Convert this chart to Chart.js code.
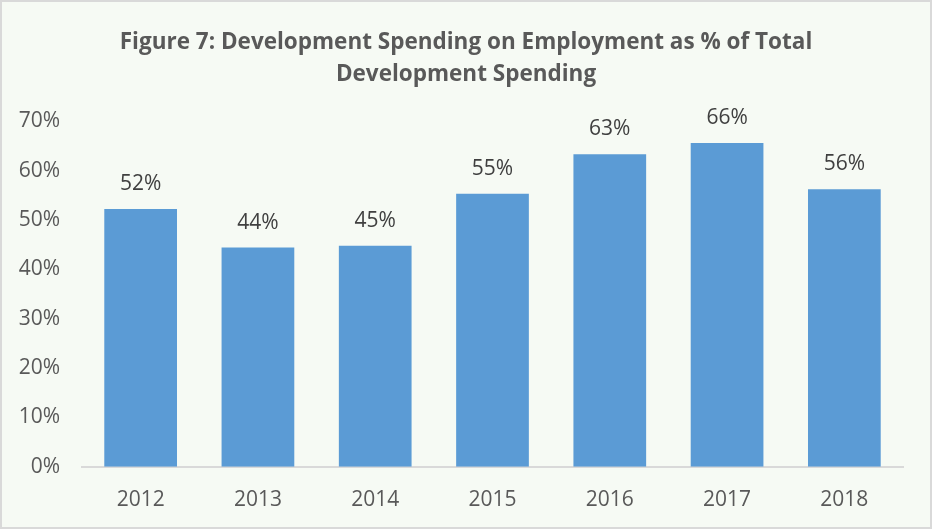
<!DOCTYPE html>
<html>
<head>
<meta charset="utf-8">
<script src="https://cdn.jsdelivr.net/npm/chart.js@4.4.1/dist/chart.umd.min.js"></script>
<style>
  html, body { margin: 0; padding: 0; }
  #wrap {
    width: 932px; height: 529px; box-sizing: border-box;
    border: 2px solid #d9d9d9; background: #f6faf4;
  }
</style>
</head>
<body>
<div id="wrap"><canvas id="devChart"></canvas></div>
<script>
const years = ['2012', '2013', '2014', '2015', '2016', '2017', '2018'];
const employmentShare = [52.2, 44.4, 44.8, 55.3, 63.3, 65.6, 56.2];
const yTicks = [0, 10, 20, 30, 40, 50, 60, 70];

const textGrey = '#595959';
const fontFamily = "'Open Sans', sans-serif";

// value labels above each bar
const barLabels = {
    id: 'barLabels',
    afterDatasetsDraw(chart) {
        const ctx = chart.ctx;
        const meta = chart.getDatasetMeta(0);
        ctx.save();
        ctx.font = '21px ' + fontFamily;
        ctx.fillStyle = '#404040';
        ctx.textAlign = 'center';
        ctx.textBaseline = 'middle';
        meta.data.forEach(function(bar, i) {
            ctx.fillText(Math.round(employmentShare[i]) + '%', bar.x, bar.y - 25);
        });
        ctx.restore();
    }
};

new Chart(document.getElementById('devChart').getContext('2d'), {
    type: 'bar',
    data: {
        labels: years,
        datasets: [{
            data: employmentShare,
            backgroundColor: '#5b9bd5',
            borderWidth: 0,
            barPercentage: 1,
            categoryPercentage: 0.62
        }]
    },
    options: {
        responsive: true,
        maintainAspectRatio: false,
        animation: false,
        layout: { padding: { left: 0, right: 0, bottom: -7 } },
        plugins: {
            legend: { display: false },
            tooltip: { enabled: false },
            title: {
                display: true,
                text: ['Figure 7: Development Spending on Employment as % of Total', 'Development Spending'],
                color: textGrey,
                font: { family: fontFamily, size: 22.5, weight: 'bold', lineHeight: 1.45 },
                padding: { top: 24, bottom: 30 }
            }
        },
        scales: {
            x: {
                grid: { display: false, drawTicks: false },
                border: { color: '#d9d9d9', width: 2 },
                ticks: { color: textGrey, font: { family: fontFamily, size: 21 }, padding: 21 }
            },
            y: {
                min: 0,
                max: 70,
                afterBuildTicks: function(axis) {
                    axis.ticks = yTicks.map(function(v) { return { value: v }; });
                },
                afterFit: function(axis) {
                    axis.width = 80;
                },
                grid: { display: false, drawTicks: false },
                border: { display: false },
                ticks: {
                    color: textGrey,
                    font: { family: fontFamily, size: 21 },
                    padding: 22,
                    callback: function(v) { return v + '%'; }
                }
            },
            // empty right-hand axis, only keeps a margin so the title stays centred
            yRight: {
                position: 'right',
                min: 0,
                max: 70,
                afterFit: function(axis) {
                    axis.width = 27;
                },
                grid: { display: false, drawTicks: false },
                border: { display: false },
                ticks: { display: false }
            }
        }
    },
    plugins: [barLabels]
});
</script>
</body>
</html>
